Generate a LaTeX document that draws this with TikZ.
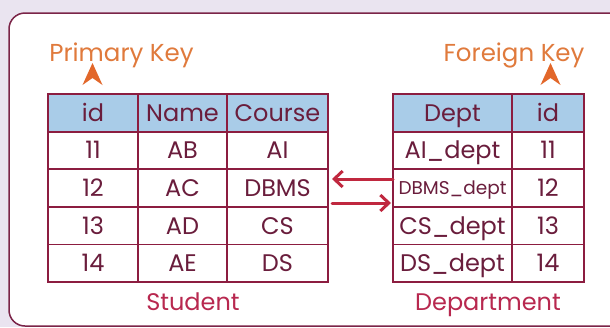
\documentclass[tikz,border=0pt]{standalone}
\usepackage{fontspec}
\setmainfont{Poppins}
\usetikzlibrary{arrows.meta,calc}

\definecolor{pagebg}{HTML}{EAE4F0}
\definecolor{frameline}{HTML}{7B2448}
\definecolor{gridline}{HTML}{8C1D40}
\definecolor{cellink}{HTML}{6A1D3C}
\definecolor{headfill}{HTML}{A9CCE8}
\definecolor{keyorange}{HTML}{E07A3C}
\definecolor{caretorange}{HTML}{E2672A}
\definecolor{tablename}{HTML}{B8284F}
\definecolor{linkred}{HTML}{C0283F}

\tikzset{
  cell/.style={draw=gridline, line width=1.8pt, inner sep=0pt, outer sep=0pt,
    minimum height=37.6pt},
  headcell/.style={cell, fill=headfill},
  celltext/.style={text=cellink, font=\fontsize{24}{28}\selectfont, inner sep=0pt, anchor=base},
  keylabel/.style={text=keyorange, font=\fontsize{24.5}{28}\selectfont, anchor=base, inner sep=0pt},
  tabletitle/.style={text=tablename, font=\fontsize{24}{28}\selectfont, anchor=base, inner sep=0pt},
  link/.style={color=linkred, line width=3pt, line cap=round,
    -{Straight Barb[length=8.5pt,width=16pt,line width=3pt]}},
  caret/.style={fill=caretorange, draw=none},
}

\begin{document}
\begin{tikzpicture}[x=1pt,y=-1pt]
  \useasboundingbox (0,0) rectangle (610,327);
  \fill[pagebg] (0,0) rectangle (610,327);
  \draw[frameline, line width=1.5pt, fill=white, rounded corners=16pt]
    (9,13) rectangle (640,326);

  % Student table: column x-ranges 48-138, 138-227, 227-328
  \foreach \c/\x/\w in {1/93/90, 2/182.5/89, 3/277.5/101} {
    \foreach \r in {0,...,4} {
      \pgfmathsetmacro\yc{112.8+37.6*\r}
      \ifnum\r=0
        \node[headcell, minimum width=\w pt] (s\r\c) at (\x,\yc) {};
      \else
        \node[cell, minimum width=\w pt] (s\r\c) at (\x,\yc) {};
      \fi
    }
  }
  % Department table: column x-ranges 393-512, 512-584
  \foreach \c/\x/\w in {1/452.5/119, 2/548/72} {
    \foreach \r in {0,...,4} {
      \pgfmathsetmacro\yc{112.8+37.6*\r}
      \ifnum\r=0
        \node[headcell, minimum width=\w pt] (d\r\c) at (\x,\yc) {};
      \else
        \node[cell, minimum width=\w pt] (d\r\c) at (\x,\yc) {};
      \fi
    }
  }

  % cell texts, set on a common baseline below each cell centre
  \foreach \n/\t in {s01/id, s02/Name, s03/Course,
                     s11/11, s12/AB, s13/AI,
                     s21/12, s22/AC, s23/DBMS,
                     s31/13, s32/AD, s33/CS,
                     s41/14, s42/AE, s43/DS,
                     d01/Dept, d02/id,
                     d11/AI\_dept, d12/11,
                     d22/12,
                     d31/CS\_dept, d32/13,
                     d41/DS\_dept, d42/14} {
    \node[celltext] at ($(\n)+(0,8.5)$) {\t};
  }
  \node[celltext, font=\fontsize{18.5}{22}\selectfont] at ($(d21)+(0,6.5)$) {DBMS\_dept};

  % table names
  \node[tabletitle] (stuname) at (193,310) {Student};
  \node[tabletitle] (depname) at (488,310) {Department};

  % key labels with carets
  \node[keylabel] (pk) at (121.5,61) {Primary Key};
  \node[keylabel] (fk) at (514,61) {Foreign Key};
  \coordinate (pkc) at (92.5,63);
  \coordinate (fkc) at (550.5,63);
  \foreach \p in {pkc,fkc}
    \fill[caret] (\p) -- ++(-10,22) -- ++(10,-7) -- ++(10,7) -- cycle;

  % reference arrows between the two tables
  \draw[link, shorten >=4pt] ($(d21.west)+(0,-9)$) -- ($(s23.east)+(0,-9)$);
  \draw[link, shorten <=4pt, shorten >=2pt] ($(s23.east)+(0,15)$) -- ($(d21.west)+(0,15)$);
\end{tikzpicture}
\end{document}
